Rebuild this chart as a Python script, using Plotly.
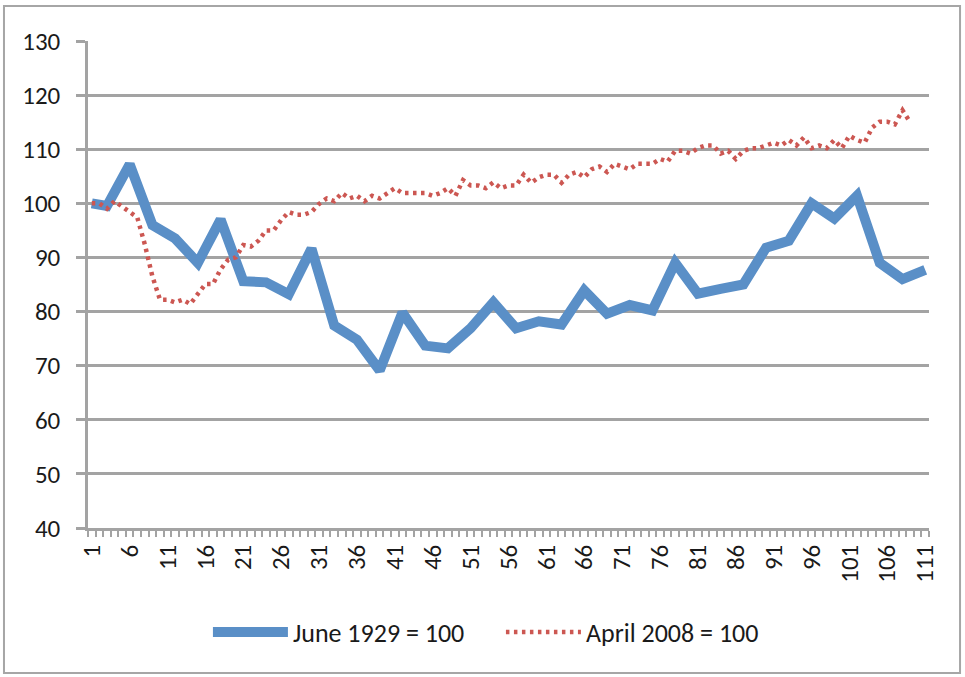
import plotly.graph_objects as go

categories = list(range(1, 112))
tick_labels = [str(c) for c in range(1, 112, 5)]

june1929_x = [1, 3, 6, 9, 12, 15, 18, 21, 24, 27, 30, 33, 36, 39, 42, 45, 48, 51, 54,
              57, 60, 63, 66, 69, 72, 75, 78, 81, 84, 87, 90, 93, 96, 99, 102, 105, 108, 111]
june1929 = [100, 99.5, 107.2, 96, 93.5, 89, 97, 85.6, 85.4, 83.2, 91.6, 77.4, 74.8, 69.1,
            79.8, 73.7, 73.2, 76.9, 81.7, 76.9, 78.2, 77.6, 83.9, 79.6, 81.2, 80.2, 89,
            83.3, 84.2, 85, 91.8, 93.1, 100, 97.2, 101.4, 89, 86, 87.7]

april2008 = [100.0, 100.0, 99.0, 100.4, 99.4, 98.4, 97.4, 92.4, 86.5, 82.2,
             82.2, 81.7, 82.2, 81.4, 83.2, 85.1, 85.1, 87.8, 89.6, 90.0,
             92.3, 92.0, 93.1, 95.0, 95.0, 96.9, 98.4, 97.9, 97.9, 98.4,
             99.9, 100.9, 100.4, 101.9, 100.9, 101.4, 100.4, 101.4, 100.9, 101.9,
             102.8, 101.9, 101.9, 101.9, 101.9, 101.4, 101.9, 102.8, 101.4, 104.3,
             103.3, 103.3, 102.8, 103.9, 102.8, 103.3, 103.3, 105.3, 103.8, 104.8,
             105.3, 105.3, 103.8, 105.3, 105.8, 104.8, 106.3, 106.8, 105.8, 107.3,
             106.8, 106.3, 107.3, 107.3, 107.3, 108.2, 107.7, 109.7, 109.7, 109.2,
             110.2, 110.7, 110.7, 109.2, 109.7, 108.2, 109.7, 110.2, 110.2, 110.7,
             111.2, 110.7, 111.7, 110.7, 112.2, 110.2, 110.7, 110.2, 111.7, 110.2,
             112.5, 111.7, 111.2, 114.0, 115.1, 115.1, 114.6, 117.2, 115.0]
april2008_x = categories[:len(april2008)]

FONT = "Calibri, Carlito, Lato, sans-serif"
GRID = "#a3a3a3"

fig = go.Figure()
fig.add_trace(go.Scatter(
    x=june1929_x, y=june1929, mode="lines", name="June 1929 = 100",
    line=dict(color="#5a8fc7", width=10),
))
fig.add_trace(go.Scatter(
    x=april2008_x, y=april2008, mode="lines", name="April 2008 = 100",
    line=dict(color="#cc5752", width=4.5, dash="3.5px,4.5px"),
))

fig.update_layout(
    width=965, height=677,
    margin=dict(l=88, r=36, t=41, b=149, autoexpand=False),
    paper_bgcolor="white", plot_bgcolor="white",
    font=dict(family=FONT, size=25, color="#1a1a1a"),
    showlegend=True,
    legend=dict(orientation="h", x=0.1426, xanchor="left", y=-0.2136, yanchor="middle",
                font=dict(size=26), itemwidth=75, entrywidth=203,
                bgcolor="rgba(0,0,0,0)"),
    shapes=[dict(type="rect", xref="paper", yref="paper",
                 x0=-0.0999, x1=1.0369, y0=-0.2977, y1=1.0719,
                 line=dict(color="#a6a6a6", width=2), layer="below")],
)

fig.update_xaxes(
    range=[0.5, 111.5], tickmode="array",
    tickvals=list(range(1, 112, 5)), ticktext=tick_labels,
    tickangle=-90, ticks="", showgrid=False, zeroline=False,
    showline=True, linecolor=GRID, linewidth=2.5,
    minor=dict(tick0=0.5, dtick=1, ticks="outside", ticklen=6, tickcolor=GRID, tickwidth=1.5),
    ticklabelstandoff=4, automargin=False,
)
fig.update_yaxes(
    range=[40, 130], dtick=10, tick0=40,
    showgrid=True, gridcolor=GRID, gridwidth=2.5, zeroline=False,
    showline=True, linecolor=GRID, linewidth=2.5,
    ticks="outside", ticklen=9, tickcolor=GRID, tickwidth=2.5,
    ticklabelstandoff=11, automargin=False,
)

fig.write_html("out.html", config={"displayModeBar": False},
               post_script="document.body.style.margin='0';")
